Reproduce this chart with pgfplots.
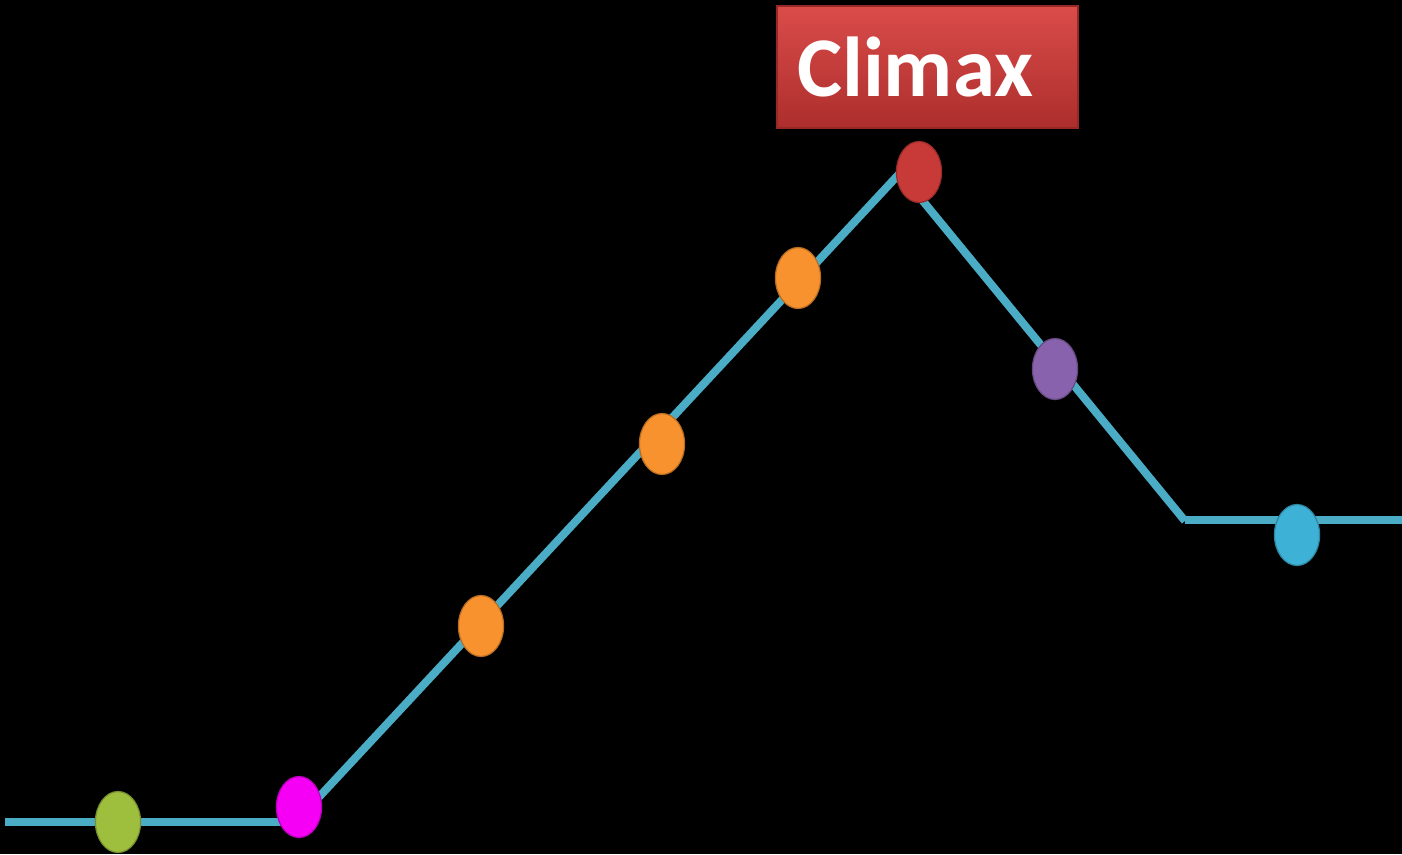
\documentclass[border=0pt]{standalone}
\usepackage{fontspec}
\setmainfont{Carlito}
\usepackage{pgfplots}
\pgfplotsset{compat=1.18}
\definecolor{linec}{HTML}{4BACC6}
\definecolor{mgreen}{HTML}{9EBE3E}
\definecolor{mpink}{HTML}{F500F5}
\definecolor{morange}{HTML}{F7922E}
\definecolor{mred}{HTML}{C83A38}
\definecolor{mpurple}{HTML}{8862AC}
\definecolor{mcyan}{HTML}{3DB2D6}
\begin{document}
\begin{tikzpicture}
\begin{axis}[
  scale only axis, width=1402pt, height=854pt,
  xmin=0, xmax=1402, ymin=0, ymax=854,
  hide axis, clip=true,
]
\fill[black] (rel axis cs:0,0) rectangle (rel axis cs:1,1);
% story line (pixel coordinates, y measured from bottom)
\addplot[linec, line width=8pt, line join=miter] coordinates {(5,32) (290,32)};
\addplot[linec, line width=8pt] coordinates {(292,28) (900,681)};
\addplot[linec, line width=8pt] coordinates {(900,681) (1185,333)};
\addplot[linec, line width=8pt] coordinates {(1185,334) (1402,334)};
% markers
\pgfplotsset{ell/.style={only marks, mark=*, mark size=30.5pt,
  mark options={xscale=0.74, fill=#1, draw=#1!75!black, line width=1.2pt}}}
\addplot[ell=mgreen] coordinates {(118,32)};
\addplot[ell=mpink] coordinates {(299,47)};
\addplot[ell=morange] coordinates {(481,228) (662,410) (798,576)};
\addplot[ell=mred] coordinates {(919,682)};
\addplot[ell=mpurple] coordinates {(1055,485)};
\addplot[ell=mcyan] coordinates {(1297,319)};
% climax box
\shade[top color={rgb,255:red,218;green,76;blue,74}, bottom color={rgb,255:red,172;green,46;blue,44},
  draw={rgb,255:red,150;green,40;blue,38}, line width=1.5pt]
  (axis cs:777,848) rectangle (axis cs:1078,726);
\node[anchor=base west, inner sep=0pt, text=white,
  font=\fontsize{85}{90}\selectfont\bfseries] at (axis cs:797,757) {Climax};
\end{axis}
\pgfresetboundingbox
\path (current axis.south west) rectangle (current axis.north east);
\end{tikzpicture}
\end{document}
